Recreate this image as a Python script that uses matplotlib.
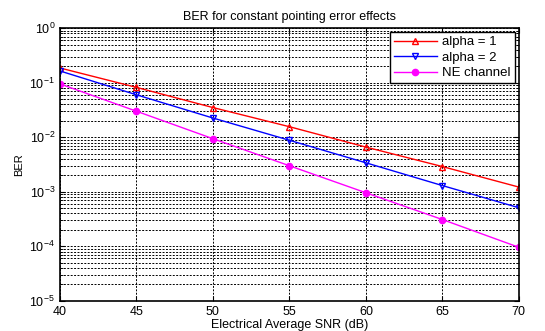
import numpy as np
import matplotlib
matplotlib.use("Agg")
import matplotlib.pyplot as plt
from matplotlib.ticker import LogLocator, NullFormatter

snr = [40, 45, 50, 55, 60, 65, 70]
ber_alpha1 = [0.186, 0.082, 0.035, 0.0156, 0.0066, 0.0029, 0.00122]
ber_alpha2 = [0.164, 0.060, 0.0225, 0.0088, 0.0034, 0.0013, 0.00051]
ber_ne = [0.095, 0.030, 0.0094, 0.0030, 0.00096, 0.00031, 0.000096]

plt.rcParams['font.family'] = ['Liberation Sans', 'DejaVu Sans']

fig = plt.figure(figsize=(5.45, 3.31), dpi=100)
ax = fig.add_axes([0.110, 0.091, 0.842, 0.824])

ax.semilogy(snr, ber_alpha1, color="red", marker="^", markersize=4,
            markerfacecolor="none", linewidth=1.0, label="alpha = 1")
ax.semilogy(snr, ber_alpha2, color="blue", marker="v", markersize=4,
            markerfacecolor="none", linewidth=1.0, label="alpha = 2")
ax.semilogy(snr, ber_ne, color="magenta", marker="o", markersize=4.5,
            linewidth=1.0, label="NE channel")

ax.set_xlim(40, 70)
ax.set_ylim(1e-5, 1)
ax.set_xticks(snr)
ax.yaxis.set_major_locator(LogLocator(base=10, numticks=10))
ax.yaxis.set_minor_locator(LogLocator(base=10, subs=np.arange(2, 10), numticks=20))
ax.yaxis.set_minor_formatter(NullFormatter())

#matlab-ish dotted grid
ax.grid(True, which="major", linestyle=(0, (2, 1.5)), color="black", linewidth=0.7)
ax.grid(True, which="minor", axis="y", linestyle=(0, (2, 1.5)), color="black", linewidth=0.7)

ax.tick_params(which="both", direction="in", labelsize=9, top=True, right=True)
for s in ax.spines.values():
    s.set_linewidth(1.2)

ax.set_title("BER for constant pointing error effects", fontsize=9)
ax.set_xlabel("Electrical Average SNR (dB)", fontsize=9, labelpad=1)
ax.set_ylabel("BER", fontsize=8)

leg = ax.legend(loc="upper right", fontsize=9.5, fancybox=False, framealpha=1,
                edgecolor="black", borderaxespad=0.3, handlelength=3.3,
                handletextpad=0.4, labelspacing=0.25, borderpad=0.3)
leg.get_frame().set_linewidth(1.0)

fig.savefig("out.png", dpi=100)
